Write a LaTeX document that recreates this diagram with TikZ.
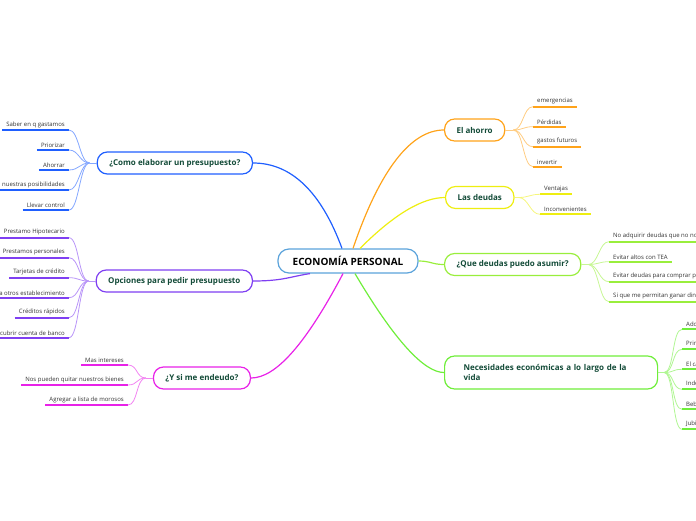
\documentclass[tikz,border=0pt]{standalone}
\usepackage{fontspec}
\setmainfont{Open Sans}
\definecolor{cblue}{HTML}{1F5FFF}
\definecolor{cpurple}{HTML}{7F3FF2}
\definecolor{cmagenta}{HTML}{E822E8}
\definecolor{corange}{HTML}{FFA31A}
\definecolor{cyellow}{HTML}{EEEE11}
\definecolor{clime}{HTML}{99EE3C}
\definecolor{cgreen}{HTML}{6FEE3A}
\definecolor{ccenter}{HTML}{5BA3DB}
\definecolor{ctext}{HTML}{134B38}
\begin{document}
\begin{tikzpicture}[x=1pt,y=-1pt,
  topic/.style={draw=#1,line width=1.2pt,rounded corners=10pt,fill=white,inner xsep=12pt,minimum height=22pt,font=\bfseries\fontsize{8}{10.5}\selectfont,text=ctext},
  leaf/.style={font=\fontsize{6}{7}\selectfont,text=black!80,inner xsep=4pt,inner ysep=2.2pt},
  uline/.style={draw=#1,line width=1.8pt},
  twig/.style={draw=#1!55,line width=0.8pt},
  limb/.style={draw=#1,line width=1.2pt}]
\useasboundingbox (0,0) rectangle (696,520);
\clip (0,0) rectangle (696,520);
\node[draw=ccenter,line width=1.2pt,rounded corners=11pt,fill=white,minimum width=140pt,minimum height=24pt,font=\bfseries\fontsize{10}{12}\selectfont] (eco) at (348,261) {ECONOMÍA PERSONAL};
% main topics
\node[topic=cblue,anchor=east] (presup) at (253,163) {¿Como elaborar un presupuesto?};
\node[topic=cpurple,anchor=east] (opciones) at (253,281) {Opciones para pedir presupuesto};
\node[topic=cmagenta,anchor=east] (endeudo) at (251,378) {¿Y si me endeudo?};
\node[topic=corange,anchor=west] (ahorro) at (444,130) {El ahorro};
\node[topic=cyellow,anchor=west] (deudas) at (445,197.5) {Las deudas};
\node[topic=clime,anchor=west] (asumir) at (444,264.5) {¿Que deudas puedo asumir?};
\node[topic=cgreen,anchor=west,minimum height=33pt,inner xsep=19pt,text width=175pt,align=left] (necesid) at (444,372.5) {Necesidades económicas a lo largo de la vida};
\draw[limb=cblue] ([xshift=-6pt]eco.north) .. controls +(-21,-57) and +(38,0) .. (presup.east);
\draw[limb=cpurple] ([xshift=-38pt]eco.south) .. controls +(-20,3) and +(30,0) .. (opciones.east);
\draw[limb=cmagenta] ([xshift=-5pt]eco.south) .. controls +(-37,70) and +(25,0) .. (endeudo.east);
\draw[limb=corange] ([xshift=5pt]eco.north) .. controls +(27,-79) and +(-33,0) .. (ahorro.west);
\draw[limb=cyellow] ([xshift=12pt]eco.north) .. controls +(35,-35) and +(-22,0) .. (deudas.west);
\draw[limb=clime] (eco.east) .. controls +(12,0) and +(-12,0) .. (asumir.west);
\draw[limb=cgreen] ([xshift=7pt]eco.south) .. controls +(39,66) and +(-20,0) .. (necesid.west);
% left leaves
\coordinate (presup-hub) at ([xshift=-7pt]presup.west);
\draw[twig=cblue] (presup.west) -- (presup-hub);
\foreach \t [count=\i] in {Saber en q gastamos,Priorizar,Ahorrar,nuestras posibilidades,Llevar control} {
  \node[leaf,anchor=south east] (presup-\i) at (69,110+20*\i) {\t};
  \draw[uline=cblue] (presup-\i.south west) -- (presup-\i.south east);
  \draw[twig=cblue] (presup-hub) .. controls +(-10,0) and +(10,0) .. (presup-\i.south east);
}
\coordinate (opciones-hub) at ([xshift=-7pt]opciones.west);
\draw[twig=cpurple] (opciones.west) -- (opciones-hub);
\foreach \t [count=\i] in {Prestamo Hipotecario,Prestamos personales,Tarjetas de crédito,a otros establecimiento,Créditos rápidos,cubrir cuenta de banco} {
  \node[leaf,anchor=south east] (opciones-\i) at (69,217.7+20*\i) {\t};
  \draw[uline=cpurple] (opciones-\i.south west) -- (opciones-\i.south east);
  \draw[twig=cpurple] (opciones-hub) .. controls +(-10,0) and +(10,0) .. (opciones-\i.south east);
}
\coordinate (endeudo-hub) at ([xshift=-7pt]endeudo.west);
\draw[twig=cmagenta] (endeudo.west) -- (endeudo-hub);
\foreach \t [count=\i] in {Mas intereses,Nos pueden quitar nuestros bienes,Agregar a lista de morosos} {
  \node[leaf,anchor=south east] (endeudo-\i) at (128,345+20*\i) {\t};
  \draw[uline=cmagenta] (endeudo-\i.south west) -- (endeudo-\i.south east);
  \draw[twig=cmagenta] (endeudo-hub) .. controls +(-10,0) and +(10,0) .. (endeudo-\i.south east);
}
% right leaves
\coordinate (ahorro-hub) at ([xshift=8pt]ahorro.east);
\draw[twig=corange] (ahorro.east) -- (ahorro-hub);
\foreach \t [count=\i] in {emergencias,Pérdidas,gastos futuros,invertir} {
  \node[leaf,anchor=south west] (ahorro-\i) at (533,86.7+20*\i) {\t};
  \draw[uline=corange] (ahorro-\i.south west) -- (ahorro-\i.south east);
  \draw[twig=corange] (ahorro-hub) .. controls +(10,0) and +(-10,0) .. (ahorro-\i.south west);
}
\coordinate (deudas-hub) at ([xshift=4pt]deudas.east);
\draw[twig=cyellow] (deudas.east) -- (deudas-hub);
\foreach \t [count=\i] in {Ventajas,Inconvenientes} {
  \node[leaf,anchor=south west] (deudas-\i) at (540,174.3+20*\i) {\t};
  \draw[uline=cyellow] (deudas-\i.south west) -- (deudas-\i.south east);
  \draw[twig=cyellow] (deudas-hub) .. controls +(10,0) and +(-10,0) .. (deudas-\i.south west);
}
\coordinate (asumir-hub) at ([xshift=7pt]asumir.east);
\draw[twig=clime] (asumir.east) -- (asumir-hub);
\foreach \t [count=\i] in {No adquirir deudas que no nos convienen,Evitar altos con TEA,Evitar deudas para comprar productos,Si que me permitan ganar dinero} {
  \node[leaf,anchor=south west] (asumir-\i) at (609,221.7+20*\i) {\t};
  \draw[uline=clime] (asumir-\i.south west) -- (asumir-\i.south east);
  \draw[twig=clime] (asumir-hub) .. controls +(10,0) and +(-10,0) .. (asumir-\i.south west);
}
\coordinate (necesid-hub) at ([xshift=6pt]necesid.east);
\draw[twig=cgreen] (necesid.east) -- (necesid-hub);
\foreach \t [count=\i] in {Adolescencia,Primer trabajo,El casamiento,Independencia,Bebé,Jubilación} {
  \node[leaf,anchor=south west] (necesid-\i) at (682,309.3+20*\i) {\t};
  \draw[uline=cgreen] (necesid-\i.south west) -- (necesid-\i.south east);
  \draw[twig=cgreen] (necesid-hub) .. controls +(10,0) and +(-10,0) .. (necesid-\i.south west);
}
\end{tikzpicture}
\end{document}
